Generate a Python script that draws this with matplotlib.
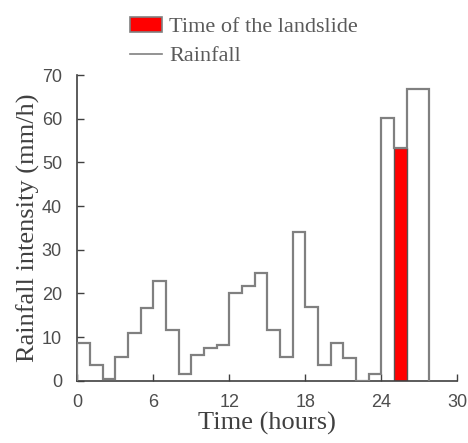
import matplotlib
matplotlib.use("Agg")
import matplotlib.pyplot as plt
from matplotlib.patches import Patch
from matplotlib.lines import Line2D

# Hourly rainfall intensity (mm/h); bin edges in hours
edges = [0, 1, 2, 3, 4, 5, 6, 7, 8, 9, 10, 11, 12, 13, 14, 15, 16, 17, 18,
         19, 20, 21, 22, 23, 24, 25, 26, 27.8]
rain = [8.6, 3.7, 0.4, 5.5, 11.0, 16.6, 22.8, 11.6, 1.5, 5.8, 7.6, 8.1,
        20.0, 21.7, 24.6, 11.6, 5.5, 34.0, 16.9, 3.7, 8.6, 5.3, 0.0, 1.5,
        60.1, 53.4, 66.7]

# Hour in which the landslide occurred
slide_start = 25
slide_end = 26
slide_value = 53.4

xticks = [0, 6, 12, 18, 24, 30]
yticks = [0, 10, 20, 30, 40, 50, 60, 70]

line_col = "#808080"
spine_col = "#404040"
text_col = "#4d4d4d"
serif = ["Liberation Serif", "DejaVu Serif"]
sans = ["Liberation Sans", "DejaVu Sans"]

fig = plt.figure(figsize=(4.68, 4.43), dpi=100)
ax = fig.add_axes([0.165, 0.1406, 0.812, 0.690])

ax.bar(slide_start, slide_value, width=slide_end - slide_start, align="edge",
       color="#ff0000", edgecolor="#555555", linewidth=1.0, zorder=2)
ax.stairs(rain, edges, baseline=0, fill=False, color=line_col,
          linewidth=1.6, zorder=3)

ax.set_xlim(0, 30)
ax.set_ylim(0, 70)
ax.set_xticks(xticks)
ax.set_yticks(yticks)
for s in ("top", "right"):
    ax.spines[s].set_visible(False)
for s in ("left", "bottom"):
    ax.spines[s].set_color(spine_col)
    ax.spines[s].set_linewidth(1.2)
ax.tick_params(direction="in", length=5, width=1, color=spine_col,
               labelcolor=text_col, labelsize=13)
ax.tick_params(axis="x", pad=9.5)
ax.tick_params(axis="y", pad=11)
for lab in ax.get_xticklabels() + ax.get_yticklabels():
    lab.set_family(sans)

ax.set_xlabel("Time (hours)", fontsize=19, family=serif, color=spine_col,
              labelpad=1)
ax.set_ylabel("Rainfall intensity (mm/h)", fontsize=19, family=serif,
              color=spine_col, labelpad=1)

handles = [Patch(facecolor="#ff0000", edgecolor="#808080", linewidth=1.2),
           Line2D([0], [0], color=line_col, linewidth=1.2)]
leg = fig.legend(handles, ["Time of the landslide", "Rainfall"],
                 loc="upper left", bbox_to_anchor=(0.278, 0.962), frameon=False,
                 prop={"family": serif, "size": 16}, handlelength=1.45,
                 handletextpad=0.3, labelspacing=0.38, borderpad=0,
                 borderaxespad=0)
for t in leg.get_texts():
    t.set_color("#5a5a5a")

fig.savefig("out.png", dpi=100)
